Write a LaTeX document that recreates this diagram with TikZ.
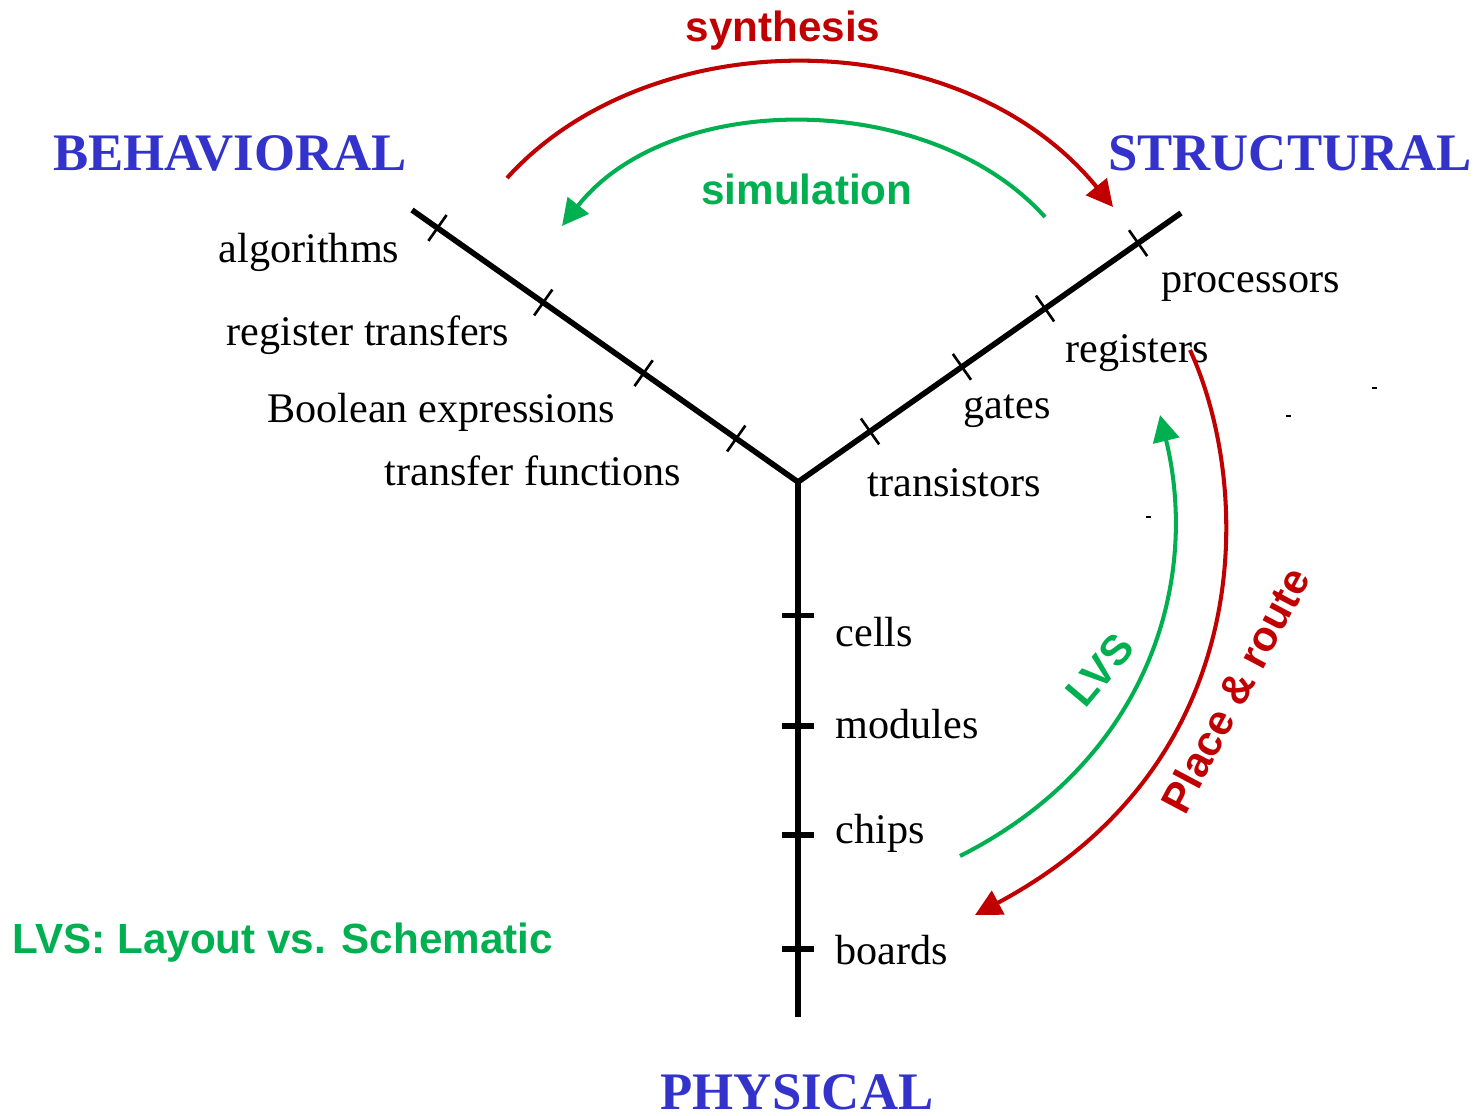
\documentclass[tikz,border=0pt]{standalone}
\usepackage{fontspec}
\setmainfont{Liberation Serif}
\setsansfont{Liberation Sans}
\usetikzlibrary{arrows.meta,calc}
\definecolor{flowred}{HTML}{C00000}
\definecolor{flowgreen}{HTML}{00B050}
\definecolor{domainblue}{HTML}{3333CC}
\tikzset{
  axis/.style={draw=black, line width=1.6pt},
  tickmark/.style={draw=black, line width=0.75pt},
  vtick/.style={draw=black, line width=1.5pt},
  level/.style={font=\fontsize{12}{14}\selectfont, inner sep=0pt},
  domainname/.style={font=\fontsize{15}{18}\selectfont\bfseries, text=domainblue, inner sep=0pt},
  flowlabel/.style={font=\sffamily\bfseries\fontsize{12}{14}\selectfont, inner sep=0pt},
  redflow/.style={draw=flowred, line width=1.15pt, -{Triangle[length=7.5pt,width=7.5pt]}},
  greenflow/.style={draw=flowgreen, line width=1.15pt, -{Triangle[length=7.5pt,width=7.5pt]}},
  speck/.style={draw=black, line width=0.5pt}
}

\begin{document}
\begin{tikzpicture}[x=0.01cm, y=-0.01cm]
  \useasboundingbox (0,0) rectangle (1479,1115);

  % Y axes
  \coordinate (o) at (798,482);
  \coordinate (behend) at (412,210);
  \coordinate (strend) at (1181,213);
  \coordinate (phyend) at (798,1017);
  \draw[axis] (behend) -- (o) -- (strend);
  \draw[axis] (o) -- (phyend);

  % ticks
  \foreach \p [count=\i] in {0.16,0.40,0.66,0.934}
    \path (o) -- (behend) coordinate[pos=\p] (b\i);
  \foreach \p [count=\i] in {0.188,0.428,0.645,0.888}
    \path (o) -- (strend) coordinate[pos=\p] (s\i);
  \foreach \p [count=\i] in {0.25,0.456,0.66,0.873}
    \path (o) -- (phyend) coordinate[pos=\p] (p\i);
  \foreach \i in {1,...,4} {
    \draw[tickmark] ($(b\i)!4.5pt!90:(o)$) -- ($(b\i)!4.5pt!-90:(o)$);
    \draw[tickmark] ($(s\i)!4.5pt!90:(o)$) -- ($(s\i)!4.5pt!-90:(o)$);
    \draw[vtick] ($(p\i)!4.5pt!90:(o)$) -- ($(p\i)!4.5pt!-90:(o)$);
  }

  % domain names
  \node[domainname] (behavioral) at (230,153) {BEHAVIORAL};
  \node[domainname] (structural) at (1290,153) {STRUCTURAL};
  \node[domainname] (physical) at (797,1092) {PHYSICAL};

  % levels
  \node[level, anchor=base east] (algo) at (400,262) {algorithms};
  \node[level, anchor=base east] (rtl) at (510,345) {register transfers};
  \node[level, anchor=base east] (bool) at (616,422) {Boolean expressions};
  \node[level, anchor=base east] (tf) at (682,485) {transfer functions};
  \node[level, anchor=base west] (proc) at (1161,292) {processors};
  \node[level, anchor=base west] (regs) at (1065,362) {registers};
  \node[level, anchor=base west] (gates) at (963,418) {gates};
  \node[level, anchor=base west] (trans) at (867,496) {transistors};
  \node[level, anchor=base west] (cells) at (835,646) {cells};
  \node[level, anchor=base west] (modules) at (835,738) {modules};
  \node[level, anchor=base west] (chips) at (835,843) {chips};
  \node[level, anchor=base west] (boards) at (835,964) {boards};

  % flows
  \coordinate (synA) at (507,178);
  \coordinate (synB) at (1113,207);
  \coordinate (simA) at (1045,217);
  \coordinate (simB) at (562,226);
  \coordinate (prA) at (1190,350);
  \coordinate (prB) at (975,915);
  \coordinate (lvsA) at (960,856);
  \coordinate (lvsB) at (1160,415);
  \draw[redflow] (synA) .. controls (650,20) and (960,20) .. (synB);
  \draw[greenflow] (simA) .. controls (930,89) and (670,89) .. (simB);
  \draw[redflow] (prA) .. controls (1250,480) and (1265,760) .. (prB);
  \draw[greenflow] (lvsA) .. controls (1150,760) and (1200,580) .. (lvsB);

  \node[flowlabel, text=flowred] (synth) at (783,31) {synthesis};
  \node[flowlabel, text=flowgreen] (simul) at (807,189) {simulation};
  \node[flowlabel, text=flowgreen, rotate=50] (lvs) at (1100,670) {LVS};
  \node[flowlabel, text=flowred, rotate=62] (pnr) at (1235,690) {Place \& route};
  \node[flowlabel, text=flowgreen, anchor=base west] (legend) at (12,953) {LVS: Layout vs. Schematic};

  % stray marks
  \draw[speck] (1372,388) -- (1377,388);
  \draw[speck] (1286,416) -- (1291,416);
  \draw[speck] (1146,517) -- (1151,517);
\end{tikzpicture}
\end{document}
